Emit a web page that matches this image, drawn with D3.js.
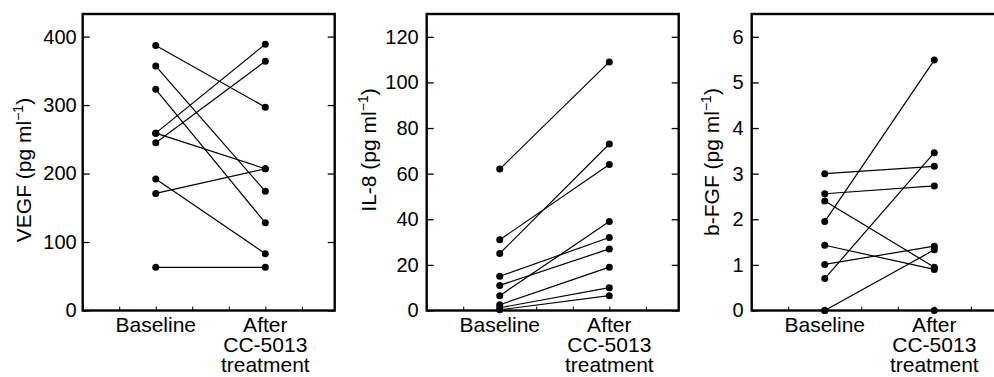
<!DOCTYPE html>
<html><head><meta charset="utf-8">
<script src="https://cdn.jsdelivr.net/npm/d3@7"></script>
<style>
body{margin:0;background:#fff}
svg{display:block}
text{font-family:"Liberation Sans",Arial,Helvetica,sans-serif;fill:#000}
</style>
</head><body><svg id="c" width="994" height="377"></svg>
<script>
// ---- data ----
const categories = ["Baseline", "After CC-5013 treatment"];
const categoryLines = [["Baseline"], ["After", "CC-5013", "treatment"]];

const vegfBaseline = [387, 357, 323, 259, 259, 245, 192, 171, 63];
const vegfAfter    = [297, 174, 128, 389, 207, 364, 83, 207, 63];

const il8Baseline = [62, 31, 25, 15, 11, 6.5, 2.5, 1.2, 0.3];
const il8After    = [109, 64, 73, 32, 27, 39, 19, 10, 6.5];

const bfgfBaseline = [3.0, 2.56, 2.40, 1.95, 1.43, 1.01, 0.70, 0, 0];
const bfgfAfter    = [3.16, 2.73, 0.95, 5.49, 0.90, 1.41, 3.46, 1.33, 0];

const vegfTicks = [0, 100, 200, 300, 400];
const il8Ticks  = [0, 20, 40, 60, 80, 100, 120];
const bfgfTicks = [0, 1, 2, 3, 4, 5, 6];

const yMax = [433, 130, 6.5];
const yNames = ["VEGF", "IL-8", "b-FGF"];
const unitText = " (pg ml";
const unitSup = "\u22121";

// ---- layout ----
const svg = d3.select("#c");
const plotTop = 14, plotBottom = 310.5, W = 252;
const panels = [
  {left: 82.7,  base: vegfBaseline, after: vegfAfter, ticks: vegfTicks, max: yMax[0], name: yNames[0], tOff: 51.2, tCy: 170, pad: 6},
  {left: 426.7, base: il8Baseline,  after: il8After,  ticks: il8Ticks,  max: yMax[1], name: yNames[1], tOff: 50.7, tCy: 150, pad: 8},
  {left: 751.7, base: bfgfBaseline, after: bfgfAfter, ticks: bfgfTicks, max: yMax[2], name: yNames[2], tOff: 32.7, tCy: 162, pad: 8}
];

panels.forEach(p => {
  const g = svg.append("g").attr("transform", `translate(${p.left},0)`);
  const y = d3.scaleLinear().domain([0, p.max]).range([plotBottom, plotTop]);
  const x = d3.scaleLinear().domain([0, 6.9]).range([0, W]);
  const xc = d3.scalePoint().domain(categories).range([x(2), x(5)]);

  // left axis (inward ticks) with labels
  const la = g.append("g").call(d3.axisLeft(y).tickValues(p.ticks).tickFormat(d3.format("d"))
    .tickSize(-7).tickPadding(p.pad));
  la.select(".domain").remove();
  la.selectAll("line").attr("stroke", "#000").attr("stroke-width", 1.3);
  la.selectAll("text").attr("font-size", 20).style("font-family", '"Liberation Sans",Arial,sans-serif');

  // right axis ticks
  const ra = g.append("g").attr("transform", `translate(${W},0)`)
    .call(d3.axisRight(y).tickValues(p.ticks).tickSize(-7).tickFormat(""));
  ra.select(".domain").remove();
  ra.selectAll("line").attr("stroke", "#000").attr("stroke-width", 1.3);

  // bottom minor ticks
  const ba = g.append("g").attr("transform", `translate(0,${plotBottom})`)
    .call(d3.axisBottom(x).tickValues(d3.range(1, 7)).tickSize(-4).tickFormat(""));
  ba.select(".domain").remove();
  ba.selectAll("line").attr("stroke", "#000").attr("stroke-width", 1);

  // frame
  g.append("rect").attr("x", 0).attr("y", plotTop).attr("width", W).attr("height", plotBottom - plotTop)
    .attr("fill", "none").attr("stroke", "#000").attr("stroke-width", 2.4);

  // paired lines
  const pairs = p.base.map((b, i) => [b, p.after[i]]);
  g.selectAll("line.pair").data(pairs).join("line").attr("class", "pair")
    .attr("x1", xc(categories[0])).attr("x2", xc(categories[1]))
    .attr("y1", d => y(d[0])).attr("y2", d => y(d[1]))
    .attr("stroke", "#000").attr("stroke-width", 1.2);

  // dots
  g.selectAll("circle.b").data(p.base).join("circle").attr("class", "b")
    .attr("cx", xc(categories[0])).attr("cy", d => y(d)).attr("r", 3.5).attr("fill", "#000");
  g.selectAll("circle.a").data(p.after).join("circle").attr("class", "a")
    .attr("cx", xc(categories[1])).attr("cy", d => y(d)).attr("r", 3.5).attr("fill", "#000");

  // category labels
  categories.forEach((c, ci) => {
    const t = g.append("text").attr("text-anchor", "middle").attr("font-size", 21)
      .attr("x", xc(c)).attr("y", 332);
    categoryLines[ci].forEach((ln, j) => {
      t.append("tspan").attr("x", xc(c)).attr("y", 332 + 20 * j).text(ln);
    });
  });

  // y title
  const tt = g.append("text").attr("text-anchor", "middle").attr("font-size", 21)
    .attr("transform", `translate(${-p.tOff},${p.tCy}) rotate(-90)`);
  tt.append("tspan").text(p.name + unitText);
  tt.append("tspan").attr("font-size", 14).attr("dy", -8).text(unitSup);
  tt.append("tspan").attr("dy", 8).text(")");
});
</script>
</body></html>
